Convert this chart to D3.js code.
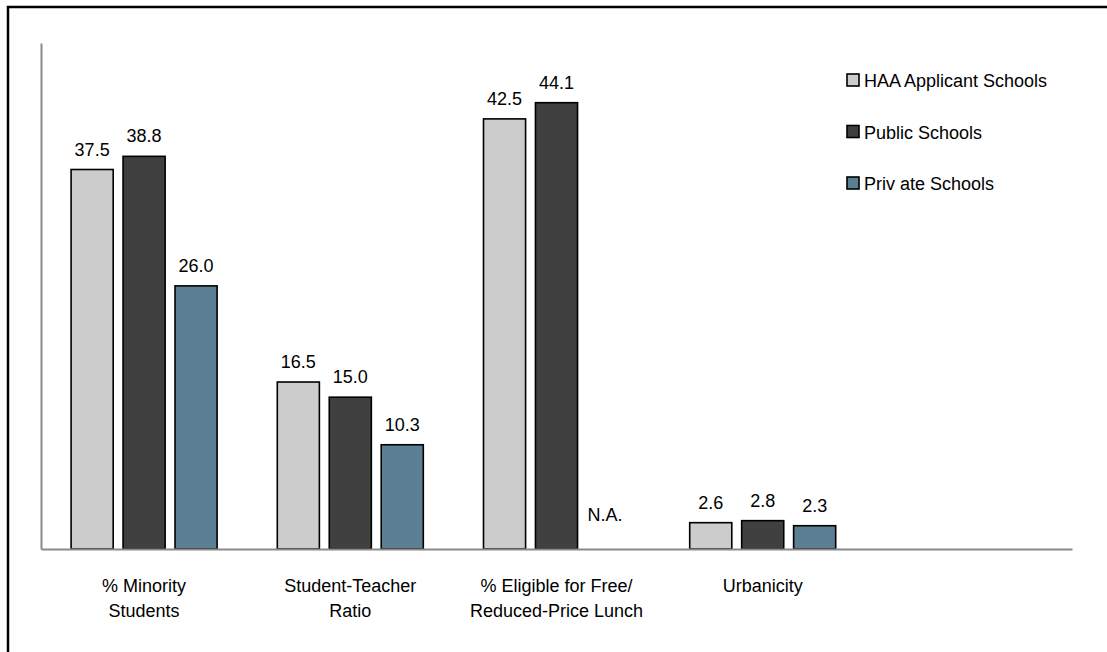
<!DOCTYPE html>
<html>
<head>
<meta charset="utf-8">
<script src="https://cdn.jsdelivr.net/npm/d3@7"></script>
<style>
  html, body { margin: 0; padding: 0; background: #fff; }
  svg { display: block; }
  text { font-family: "Liberation Sans", Arial, sans-serif; fill: #000; }
</style>
</head>
<body>
<svg id="chart" width="1107" height="652"></svg>
<script>
// School characteristics by school type
const categories = [
  ["% Minority", "Students"],
  ["Student-Teacher", "Ratio"],
  ["% Eligible for Free/", "Reduced-Price Lunch"],
  ["Urbanicity"],
  [""]
];
const seriesNames = ["HAA Applicant Schools", "Public Schools", "Priv ate Schools"];
const haaValues     = [37.5, 16.5, 42.5, 2.6];
const publicValues  = [38.8, 15.0, 44.1, 2.8];
const privateValues = [26.0, 10.3, null, 2.3];
const seriesColors = ["#cccccc", "#404040", "#5b7f93"];
const missingLabel = "N.A.";

const seriesValues = [haaValues, publicValues, privateValues];
const fontSize = 18;

const svg = d3.select("#chart");

// outer frame
svg.append("rect")
  .attr("x", 8).attr("y", 7)
  .attr("width", 1200).attr("height", 700)
  .attr("fill", "none").attr("stroke", "#000").attr("stroke-width", 2.5);

const plot = { left: 41, right: 1072, top: 43, bottom: 549 };

const catKeys = categories.map((c, i) => "c" + i);
const x0 = d3.scaleBand().domain(catKeys).range([plot.left, plot.right]);
const x1 = d3.scaleBand().domain(d3.range(seriesNames.length))
  .range([-73, 73]).paddingInner(0.19).paddingOuter(0);
const y = d3.scaleLinear().domain([0, 50]).range([plot.bottom, plot.top]);

const barX = d => x0(catKeys[d.c]) + x0.bandwidth() / 2 + x1(d.s);

// bars
const barData = [];
seriesValues.forEach((vals, s) => {
  vals.forEach((v, c) => barData.push({ s, c, v }));
});

const gBars = svg.append("g");
gBars.selectAll("rect")
  .data(barData.filter(d => d.v != null))
  .join("rect")
  .attr("x", barX)
  .attr("width", x1.bandwidth())
  .attr("y", d => y(d.v))
  .attr("height", d => y(0) - y(d.v))
  .attr("fill", d => seriesColors[d.s])
  .attr("stroke", "#000")
  .attr("stroke-width", 1.6);

// value labels (missing values get a left-aligned note near the baseline)
gBars.selectAll("text")
  .data(barData)
  .join("text")
  .attr("x", d => d.v != null ? barX(d) + x1.bandwidth() / 2 : barX(d))
  .attr("y", d => d.v != null ? y(d.v) - 14 : y(0) - 28)
  .attr("text-anchor", d => d.v != null ? "middle" : "start")
  .attr("font-size", fontSize)
  .text(d => d.v != null ? d.v.toFixed(1) : missingLabel);

// axes lines
const axisColor = "#8a8a8a";
const yAxis = d3.axisLeft(y).tickValues([]).tickSizeOuter(0);
svg.append("g").attr("transform", `translate(${plot.left},0)`).call(yAxis)
  .call(g => g.select(".domain").attr("stroke", axisColor).attr("stroke-width", 2));
const xAxis = d3.axisBottom(x0).tickValues([]).tickSizeOuter(0);
svg.append("g").attr("transform", `translate(0,${plot.bottom})`).call(xAxis)
  .call(g => g.select(".domain").attr("stroke", axisColor).attr("stroke-width", 2));

// category labels
const gCat = svg.append("g");
categories.forEach((lines, i) => {
  const cx = x0(catKeys[i]) + x0.bandwidth() / 2;
  const t = gCat.append("text")
    .attr("x", cx)
    .attr("y", 592)
    .attr("text-anchor", "middle")
    .attr("font-size", fontSize);
  lines.forEach((ln, k) => {
    t.append("tspan")
      .attr("x", cx)
      .attr("dy", k === 0 ? 0 : 24.5)
      .text(ln);
  });
});

// legend
const legend = svg.append("g").attr("transform", "translate(847,74)");
seriesNames.forEach((name, i) => {
  const row = legend.append("g").attr("transform", `translate(0,${i * 51.5})`);
  row.append("rect").attr("x", 0).attr("y", 0).attr("width", 12).attr("height", 12)
    .attr("fill", seriesColors[i]).attr("stroke", "#000").attr("stroke-width", 1.6);
  row.append("text").attr("x", 17).attr("y", 13).attr("font-size", fontSize).text(name);
});
</script>
</body>
</html>
